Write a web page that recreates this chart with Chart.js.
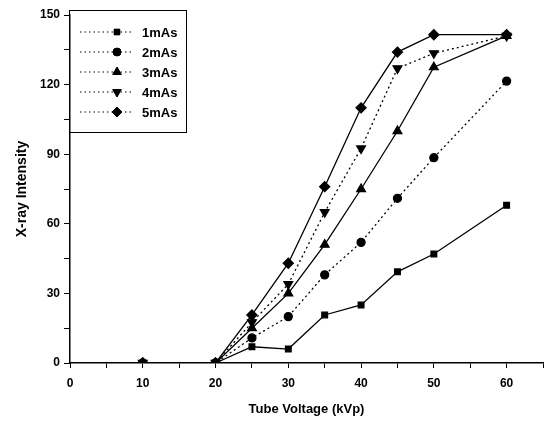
<!DOCTYPE html>
<html><head><meta charset="utf-8">
<script src="https://cdn.jsdelivr.net/npm/chart.js@4"></script>
<style>html,body{margin:0;padding:0;background:#fff}#wrap{width:551px;height:421px}</style>
</head><body><div id="wrap"><canvas id="c" width="551" height="421"></canvas></div>
<script>
const voltages = [10, 20, 25, 30, 35, 40, 45, 50, 60];
const seriesNames = ['1mAs', '2mAs', '3mAs', '4mAs', '5mAs'];
const s1mAs = [0, 0, 7, 6, 20.7, 25, 39.3, 47, 68];
const s2mAs = [0, 0, 10.8, 20, 38, 52, 71, 88.5, 121.5];
const s3mAs = [0, 0, 15, 30, 51, 75, 100, 127.5, 141];
const s4mAs = [0, 0, 17.5, 34, 65, 92.5, 127, 133.5, 141];
const s5mAs = [0, 0, 20.7, 43, 76, 110, 134, 141.5, 141.5];
const xTickLabels = [0, 10, 20, 30, 40, 50, 60];
const yTickLabels = [0, 30, 60, 90, 120, 150];

const allSeries = [s1mAs, s2mAs, s3mAs, s4mAs, s5mAs];
const styles = [
  {ps:'rect', rot:0, dash:[], r:4},
  {ps:'circle', rot:0, dash:[2,3], r:4},
  {ps:'triangle', rot:0, dash:[], r:5},
  {ps:'triangle', rot:180, dash:[2,3], r:5},
  {ps:'rectRot', rot:0, dash:[], r:5}
];
const datasets = allSeries.map((s, i) => ({
  label: seriesNames[i],
  data: voltages.map((v, j) => ({x: v, y: s[j]})),
  borderColor: '#000', backgroundColor: '#000',
  borderWidth: 1.3, borderDash: styles[i].dash,
  pointStyle: styles[i].ps, rotation: styles[i].rot,
  pointRadius: styles[i].r, pointBackgroundColor: '#000', pointBorderColor: '#000',
  tension: 0, fill: false
}));

const legendBox = {
  id: 'legendBox',
  afterDraw(chart) {
    const ctx = chart.ctx;
    ctx.save();
    ctx.strokeStyle = '#000'; ctx.lineWidth = 1;
    ctx.strokeRect(69.5, 10.5, 117, 122);
    ctx.font = 'bold 13px "Liberation Sans", Arial, sans-serif';
    ctx.textBaseline = 'middle'; ctx.fillStyle = '#000';
    seriesNames.forEach((n, i) => {
      const y = 32 + i * 20;
      ctx.setLineDash([1.5, 3]); ctx.lineWidth = 1;
      ctx.beginPath(); ctx.moveTo(80, y); ctx.lineTo(134, y); ctx.stroke();
      ctx.setLineDash([]);
      Chart.helpers.drawPoint(ctx, {pointStyle: styles[i].ps, rotation: styles[i].rot, radius: styles[i].r, borderWidth: 1}, 117, y);
      ctx.fill();
      ctx.fillText(n, 142, y + 1);
    });
    ctx.restore();
  }
};

new Chart(document.getElementById('c'), {
  type: 'line',
  data: { datasets },
  plugins: [legendBox],
  options: {
    responsive: false, animation: false, devicePixelRatio: 1,
    layout: { padding: { top: 15, right: 8, left: 10, bottom: 0 } },
    plugins: { legend: { display: false }, tooltip: { enabled: false } },
    scales: {
      x: {
        type: 'linear', min: 0, max: 65,
        afterBuildTicks: s => { const t = []; for (let v = 0; v <= 65; v += 5) t.push({value: v}); s.ticks = t; },
        ticks: { color: '#000', font: {family: '"Liberation Sans", Arial, sans-serif', size: 12, weight: 'bold'}, padding: 8, maxRotation: 0, autoSkip: false,
          callback: v => xTickLabels.includes(v) ? String(v) : '' },
        grid: { drawOnChartArea: false, tickLength: 5, color: '#000', tickWidth: 1 },
        border: { display: true, color: '#000', width: 1.5 },
        title: { display: true, text: 'Tube Voltage (kVp)', color: '#000', font: {family: '"Liberation Sans", Arial, sans-serif', size: 13, weight: 'bold'}, padding: {top: 6} },
        afterFit: s => { s.height = 58; }
      },
      y: {
        type: 'linear', min: 0, max: 150,
        afterBuildTicks: s => { const t = []; for (let v = 0; v <= 150; v += 15) t.push({value: v}); s.ticks = t; },
        ticks: { color: '#000', font: {family: '"Liberation Sans", Arial, sans-serif', size: 12, weight: 'bold'}, padding: 4, autoSkip: false,
          callback: v => yTickLabels.includes(v) ? String(v) : '' },
        grid: { drawOnChartArea: false, tickLength: 6, color: '#000', tickWidth: 1 },
        border: { display: true, color: '#000', width: 1.5 },
        title: { display: true, text: 'X-ray Intensity', color: '#000', font: {family: '"Liberation Sans", Arial, sans-serif', size: 14, weight: 'bold'}, padding: {bottom: 6} },
        afterFit: s => { s.width = 60; }
      }
    }
  }
});
</script></body></html>
